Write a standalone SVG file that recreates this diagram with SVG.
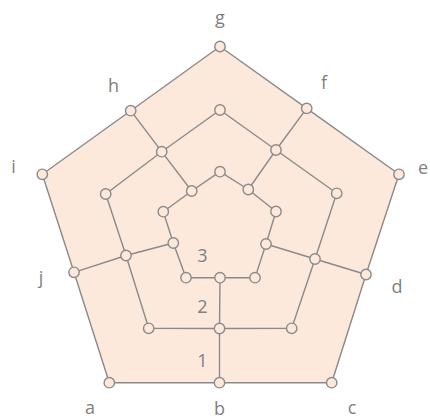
<svg xmlns="http://www.w3.org/2000/svg" width="430" height="419" viewBox="0 0 430 419">
<style>
.bg{fill:#fde9db;stroke:none}
.e{stroke:#8a8a8a;stroke-width:1.4;fill:none;stroke-linejoin:round}
.n{fill:#fde9db;stroke:#8a8a8a;stroke-width:1.4}
.t{font-family:"Open Sans","Liberation Sans",sans-serif;font-size:18px;fill:#7f7f7f;text-anchor:middle}
</style>
<rect width="430" height="419" fill="#ffffff"/>
<polygon class="bg" points="220,46.5 399,174.3 331.7,382.7 109.3,382.7 42.3,174.3"/>
<g id="connectors">
<polygon class="e" points="220,46.5 306.7,108.4 399,174.3 366,274.5 331.7,382.7 219.5,382.7 109.3,382.7 74,272.3 42.3,174.3 130.7,110.7"/>
<polygon class="e" points="220,110 276,150 336.7,193.3 315,259 291.7,328.3 219.5,328.5 148.7,328.3 126,255.5 105.7,194 161.7,151.7"/>
<polygon class="e" points="220,171.7 248.3,189.5 276,211.5 266,244 255,277.7 220,277.7 186,277.7 173.3,243 163.3,211.7 191.7,191"/>
<polyline class="e" points="219.5,382.7 219.5,328.5 220,277.7"/>
<polyline class="e" points="74,272.3 126,255.5 173.3,243"/>
<polyline class="e" points="366,274.5 315,259 266,244"/>
<polyline class="e" points="130.7,110.7 161.7,151.7 191.7,191"/>
<polyline class="e" points="306.7,108.4 276,150 248.3,189.5"/>
</g>
<g id="node-g"><circle class="n" cx="220" cy="46.5" r="5.2"/></g>
<g id="node-f"><circle class="n" cx="306.7" cy="108.4" r="5.2"/></g>
<g id="node-e"><circle class="n" cx="399" cy="174.3" r="5.2"/></g>
<g id="node-d"><circle class="n" cx="366" cy="274.5" r="5.2"/></g>
<g id="node-c"><circle class="n" cx="331.7" cy="382.7" r="5.2"/></g>
<g id="node-b"><circle class="n" cx="219.5" cy="382.7" r="5.2"/></g>
<g id="node-a"><circle class="n" cx="109.3" cy="382.7" r="5.2"/></g>
<g id="node-j"><circle class="n" cx="74" cy="272.3" r="5.2"/></g>
<g id="node-i"><circle class="n" cx="42.3" cy="174.3" r="5.2"/></g>
<g id="node-h"><circle class="n" cx="130.7" cy="110.7" r="5.2"/></g>
<g id="node-m0"><circle class="n" cx="220" cy="110" r="5.2"/></g>
<g id="node-m1"><circle class="n" cx="276" cy="150" r="5.2"/></g>
<g id="node-m2"><circle class="n" cx="336.7" cy="193.3" r="5.2"/></g>
<g id="node-m3"><circle class="n" cx="315" cy="259" r="5.2"/></g>
<g id="node-m4"><circle class="n" cx="291.7" cy="328.3" r="5.2"/></g>
<g id="node-m5"><circle class="n" cx="219.5" cy="328.5" r="5.2"/></g>
<g id="node-m6"><circle class="n" cx="148.7" cy="328.3" r="5.2"/></g>
<g id="node-m7"><circle class="n" cx="126" cy="255.5" r="5.2"/></g>
<g id="node-m8"><circle class="n" cx="105.7" cy="194" r="5.2"/></g>
<g id="node-m9"><circle class="n" cx="161.7" cy="151.7" r="5.2"/></g>
<g id="node-n0"><circle class="n" cx="220" cy="171.7" r="5.2"/></g>
<g id="node-n1"><circle class="n" cx="248.3" cy="189.5" r="5.2"/></g>
<g id="node-n2"><circle class="n" cx="276" cy="211.5" r="5.2"/></g>
<g id="node-n3"><circle class="n" cx="266" cy="244" r="5.2"/></g>
<g id="node-n4"><circle class="n" cx="255" cy="277.7" r="5.2"/></g>
<g id="node-n5"><circle class="n" cx="220" cy="277.7" r="5.2"/></g>
<g id="node-n6"><circle class="n" cx="186" cy="277.7" r="5.2"/></g>
<g id="node-n7"><circle class="n" cx="173.3" cy="243" r="5.2"/></g>
<g id="node-n8"><circle class="n" cx="163.3" cy="211.7" r="5.2"/></g>
<g id="node-n9"><circle class="n" cx="191.7" cy="191" r="5.2"/></g>
<g id="labels">
<text class="t" x="220" y="24">g</text>
<text class="t" x="324" y="89">f</text>
<text class="t" x="423" y="174">e</text>
<text class="t" x="397" y="293">d</text>
<text class="t" x="352" y="414">c</text>
<text class="t" x="219.5" y="415">b</text>
<text class="t" x="90" y="414">a</text>
<text class="t" x="41" y="284">j</text>
<text class="t" x="13.5" y="173">i</text>
<text class="t" x="113.5" y="92">h</text>
<text class="t" x="202.5" y="261.5">3</text>
<text class="t" x="202.5" y="313">2</text>
<text class="t" x="202.5" y="366.5">1</text>
</g>
</svg>
